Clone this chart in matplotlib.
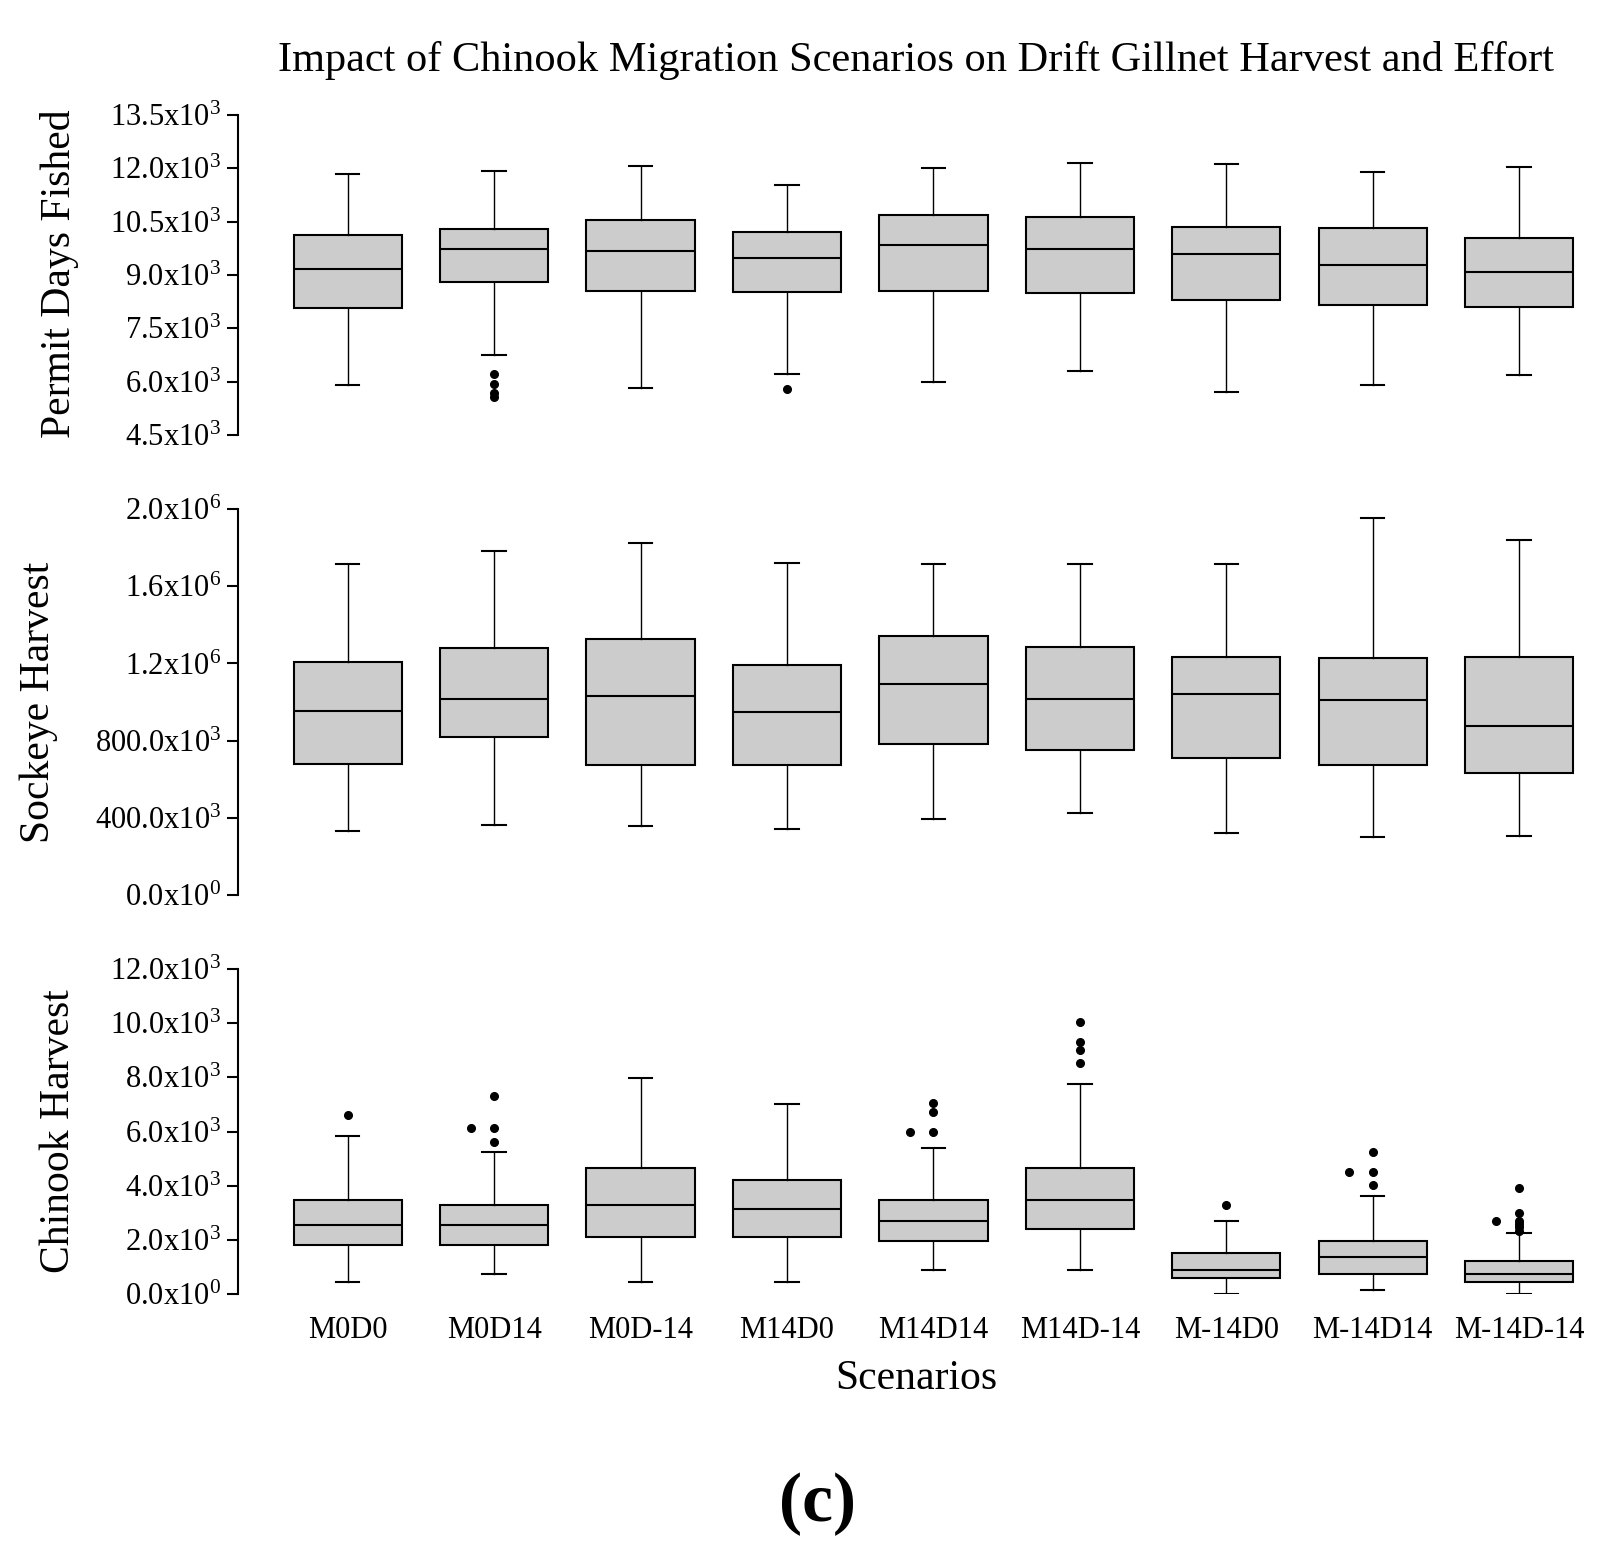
import matplotlib
matplotlib.use('Agg')
from matplotlib import pyplot as plt

plt.rcParams['font.family'] = ['Liberation Serif', 'DejaVu Serif']
plt.rcParams['mathtext.fontset'] = 'custom'
plt.rcParams['mathtext.rm'] = 'Liberation Serif'
plt.rcParams['mathtext.it'] = 'Liberation Serif:italic'

scenarios = ['M0D0', 'M0D14', 'M0D-14', 'M14D0', 'M14D14', 'M14D-14',
             'M-14D0', 'M-14D14', 'M-14D-14']

# Permit Days Fished
permit_lo = [5900, 6750, 5820, 6210, 5990, 6300, 5710, 5900, 6190]
permit_q1 = [8070, 8800, 8550, 8520, 8550, 8490, 8290, 8150, 8100]
permit_med = [9160, 9730, 9670, 9470, 9840, 9730, 9590, 9280, 9080]
permit_q3 = [10120, 10290, 10540, 10200, 10680, 10620, 10340, 10320, 10040]
permit_hi = [11830, 11920, 12060, 11540, 12000, 12140, 12110, 11890, 12030]
permit_out = [[], [6210, 5940, 5670, 5580], [], [5800], [], [], [], [], []]

# Sockeye Harvest
sockeye_lo = [331e3, 362e3, 357e3, 341e3, 393e3, 424e3, 321e3, 300e3, 305e3]
sockeye_q1 = [678e3, 817e3, 672e3, 672e3, 781e3, 750e3, 709e3, 672e3, 631e3]
sockeye_med = [952e3, 1014e3, 1029e3, 947e3, 1091e3, 1014e3, 1040e3, 1009e3, 874e3]
sockeye_q3 = [1205e3, 1278e3, 1329e3, 1190e3, 1340e3, 1283e3, 1231e3, 1226e3, 1231e3]
sockeye_hi = [1716e3, 1784e3, 1826e3, 1722e3, 1717e3, 1717e3, 1717e3, 1955e3, 1841e3]

# Chinook Harvest
chinook_lo = [440, 740, 440, 440, 880, 880, 0, 150, 0]
chinook_q1 = [1810, 1810, 2100, 2100, 1950, 2400, 590, 740, 440]
chinook_med = [2540, 2540, 3280, 3130, 2690, 3460, 880, 1360, 740]
chinook_q3 = [3460, 3280, 4640, 4200, 3460, 4640, 1510, 1950, 1220]
chinook_hi = [5850, 5230, 7960, 7030, 5380, 7770, 2690, 3610, 2260]
chinook_out = [[6610], [7330, 6140, 6140, 5610], [], [], [7040, 6740, 5990, 5990],
               [10050, 9300, 9000, 8540], [3280], [5240, 4510, 4510, 4040],
               [3910, 3010, 2700, 2700, 2580, 2460, 2330]]

permit_ticks = [4500, 6000, 7500, 9000, 10500, 12000, 13500]
sockeye_ticks = [0, 400e3, 800e3, 1.2e6, 1.6e6, 2.0e6]
chinook_ticks = [0, 2000, 4000, 6000, 8000, 10000, 12000]


def sci_label(v):
    if v == 0:
        return '0.0x10$^{0}$'
    if v < 1e6:
        return '%.1fx10$^{3}$' % (v / 1e3)
    return '%.1fx10$^{6}$' % (v / 1e6)


def draw_panel(ax, lo, q1, med, q3, hi, outliers, ticks):
    stats = []
    for i in range(len(scenarios)):
        stats.append({'whislo': lo[i], 'q1': q1[i], 'med': med[i],
                      'q3': q3[i], 'whishi': hi[i], 'fliers': []})
    pos = list(range(1, len(scenarios) + 1))
    ax.bxp(stats, positions=pos, widths=0.74, capwidths=0.16,
           patch_artist=True, showfliers=False,
           boxprops=dict(facecolor='#cccccc', edgecolor='black', linewidth=1.5),
           medianprops=dict(color='black', linewidth=1.5),
           whiskerprops=dict(color='black', linewidth=1.0, linestyle='-'),
           capprops=dict(color='black', linewidth=1.5))
    # outliers, repeated values put beside each other
    for p, vals in zip(pos, outliers):
        seen = {}
        for v in vals:
            k = seen.get(v, 0)
            seen[v] = k + 1
            ax.plot(p - 0.16 * k, v, 'o', color='black', markersize=5.5,
                    clip_on=False)
    ax.set_xlim(0.25, 9.45)
    ax.set_ylim(ticks[0], ticks[-1])
    ax.set_yticks(ticks)
    ax.set_yticklabels([sci_label(t) for t in ticks], fontsize=22)
    for s in ['top', 'right', 'bottom']:
        ax.spines[s].set_visible(False)
    ax.spines['left'].set_linewidth(1.5)
    ax.tick_params(axis='y', direction='out', length=8, width=1.5, pad=4)
    ax.tick_params(axis='x', length=0)
    ax.set_xticks(pos)
    ax.set_xticklabels([])


fig = plt.figure(figsize=(16.23, 15.49), dpi=100)
ax1 = fig.add_axes([0.1466, 0.7192, 0.830, 0.2066])
ax2 = fig.add_axes([0.1466, 0.4222, 0.830, 0.2492])
ax3 = fig.add_axes([0.1466, 0.1646, 0.830, 0.2098])

draw_panel(ax1, permit_lo, permit_q1, permit_med, permit_q3, permit_hi,
           permit_out, permit_ticks)
draw_panel(ax2, sockeye_lo, sockeye_q1, sockeye_med, sockeye_q3, sockeye_hi,
           [[] for s in scenarios], sockeye_ticks)
draw_panel(ax3, chinook_lo, chinook_q1, chinook_med, chinook_q3, chinook_hi,
           chinook_out, chinook_ticks)
ax3.set_xticklabels(scenarios, fontsize=22)
ax3.tick_params(axis='x', pad=16)

fig.text(0.5644, 0.961, 'Impact of Chinook Migration Scenarios on Drift Gillnet Harvest and Effort',
         ha='center', va='center', fontsize=30.5)
fig.text(0.0364, 0.8231, 'Permit Days Fished', rotation=90, ha='center', va='center', fontsize=30)
fig.text(0.024, 0.5468, 'Sockeye Harvest', rotation=90, ha='center', va='center', fontsize=30)
fig.text(0.0364, 0.2699, 'Chinook Harvest', rotation=90, ha='center', va='center', fontsize=30)
fig.text(0.5644, 0.110, 'Scenarios', ha='center', va='center', fontsize=30)
fig.text(0.504, 0.029, '(c)', ha='center', va='center', fontsize=50, fontweight='bold')

fig.savefig('out.png', dpi=100)
